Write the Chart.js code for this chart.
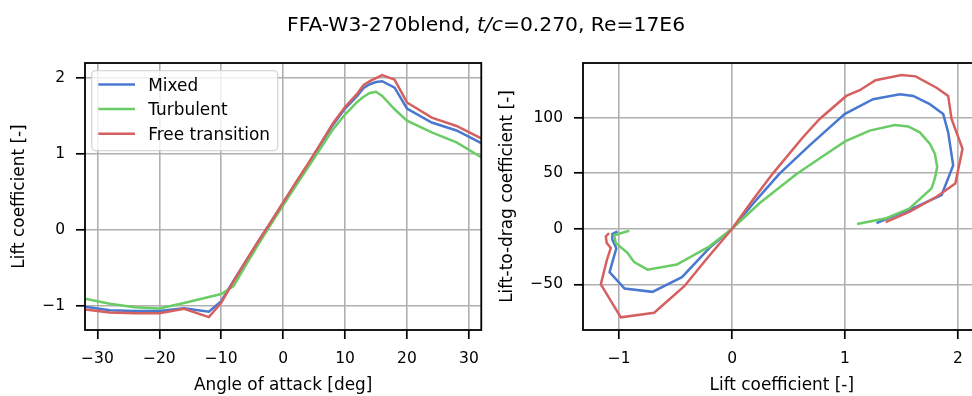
<!DOCTYPE html>
<html><head><meta charset="utf-8">
<script src="https://cdn.jsdelivr.net/npm/chart.js@4.4.1/dist/chart.umd.min.js"></script>
<style>
html,body{margin:0;padding:0;background:#fff;overflow:hidden;width:972px;height:396px;}
#title{position:absolute;left:0;width:972px;top:14px;text-align:center;font-family:"DejaVu Sans";font-size:20.3px;line-height:20px;color:#000;white-space:nowrap;}
#w1{position:absolute;left:0;top:0;width:490px;height:396px;overflow:hidden;}
#w2{position:absolute;left:490px;top:0;width:482px;height:396px;overflow:hidden;}
canvas{position:absolute;left:0;top:0;}
</style></head><body>
<div id="w1"><canvas id="c1" width="490" height="396"></canvas></div>
<div id="w2"><canvas id="c2" width="500" height="396"></canvas></div>
<div id="title">FFA-W3-270blend, <i>t/c</i>=0.270, Re=17E6</div>
<script>
// ---- data ----
const seriesNames = ['Mixed', 'Turbulent', 'Free transition'];
const alpha = [-32,-28,-24,-20,-16,-12,-10,-8,-6,-4,-2,0,2,4,6,8,10,12,13,14,15,16,18,20,24,28,32];
const clMixed = [-1.013,-1.06,-1.07,-1.07,-1.035,-1.08,-0.94,-0.67,-0.41,-0.15,0.10,0.36,0.61,0.86,1.12,1.38,1.60,1.77,1.87,1.92,1.95,1.96,1.875,1.60,1.415,1.31,1.145];
const clTurb  = [-0.908,-0.975,-1.02,-1.035,-0.965,-0.885,-0.845,-0.74,-0.46,-0.19,0.07,0.325,0.575,0.82,1.07,1.32,1.52,1.69,1.755,1.805,1.82,1.765,1.59,1.44,1.285,1.153,0.957];
const clFree  = [-1.05,-1.09,-1.10,-1.10,-1.04,-1.15,-0.96,-0.68,-0.41,-0.15,0.10,0.36,0.62,0.87,1.13,1.40,1.62,1.80,1.91,1.96,2.00,2.04,1.98,1.68,1.48,1.37,1.205];

const ldClMixed = [-1.015,-1.06,-1.06,-1.025,-1.085,-0.952,-0.705,-0.444,-0.2,0,0.213,0.42,0.686,0.996,1.248,1.485,1.603,1.75,1.869,1.913,1.957,1.855,1.633,1.455,1.278];
const ldMixed   = [-2.4,-4.8,-9.8,-17.5,-39,-53.8,-56.7,-43.5,-17.2,0,25.8,49.6,75,103.1,116.5,120.9,119.4,112,103.1,86.7,57,30.3,19.9,12.5,5.1];
const ldClTurb  = [-0.91,-1.045,-1.03,-0.926,-0.867,-0.749,-0.49,-0.2,0,0.242,0.568,0.80,1.0,1.218,1.44,1.559,1.662,1.75,1.795,1.816,1.795,1.766,1.573,1.366,1.106];
const ldTurb    = [-1.8,-5.8,-12.8,-21.7,-30,-36.8,-32.1,-15.8,0,22.9,49,65,78.5,88.2,93.3,92,86.7,76.4,67.5,55.5,45.2,36.3,18.4,9.5,4.2];
const ldClFree  = [-1.089,-1.118,-1.11,-1.074,-1.11,-1.162,-0.985,-0.69,-0.423,-0.23,0,0.183,0.36,0.627,0.775,1.011,1.13,1.27,1.50,1.625,1.81,1.913,1.943,2.04,1.976,1.81,1.573,1.36];
const ldFree    = [-3.9,-6.8,-12.8,-17.2,-28.5,-49.9,-79.6,-75.5,-51.6,-27.6,0,25.8,49.6,82.3,98.7,119.4,124.5,133.5,138.1,137,126.8,119.4,98.7,71.9,40.7,28.8,15.4,6];

const xTicksL = [-30,-20,-10,0,10,20,30];
const yTicksL = [-1,0,1,2];
const xTicksR = [-1,0,1,2];
const yTicksR = [-50,0,50,100];

// ---- style ----
const colors = ['#4878d0', '#6acc64', '#d65f5f'];
const FONT = 'DejaVu Sans';
const TXT = '#000';

function pts(xs, ys){ return xs.map((x,i)=>({x:x, y:ys[i]})); }
function fmt(v){ return v < 0 ? '\u2212' + Math.abs(v) : String(v); }

function axis(pos, min, max, ticksArr, title, size, titlePad){
  return {
    type:'linear', position:pos, min:min, max:max,
    afterBuildTicks: s => { s.ticks = ticksArr.map(v => ({value:v})); },
    afterFit: s => { if (pos === 'bottom') s.height = size; else s.width = size; },
    grid: {color:'#b0b0b0', lineWidth:1.6, tickColor:TXT, tickLength:9, tickWidth:1.7, drawTicks:true},
    border: {display:false},
    ticks: {font:{family:FONT, size:15.5}, color:TXT, padding: pos === 'bottom' ? 11 : 11,
            maxRotation:0, autoSkip:false, callback: v => fmt(v)},
    title: {display:true, text:title, font:{family:FONT, size:16.9}, color:TXT, padding:titlePad}
  };
}

const framePlugin = {
  id:'frame',
  afterDatasetsDraw(chart){
    const c = chart.ctx, a = chart.chartArea;
    c.save();
    c.strokeStyle = '#000'; c.lineWidth = 1.8;
    c.strokeRect(a.left, a.top, a.right - a.left, a.bottom - a.top);
    c.restore();
  }
};

const legendPlugin = {
  id:'mplLegend',
  afterDraw(chart, args, opts){
    if (!opts || !opts.show) return;
    const c = chart.ctx, a = chart.chartArea;
    const x0 = a.left + 6.7, y0 = a.top + 7.6, w = 186, h = 80, r = 4;
    c.save();
    c.beginPath();
    c.moveTo(x0 + r, y0); c.lineTo(x0 + w - r, y0); c.arcTo(x0 + w, y0, x0 + w, y0 + r, r);
    c.lineTo(x0 + w, y0 + h - r); c.arcTo(x0 + w, y0 + h, x0 + w - r, y0 + h, r);
    c.lineTo(x0 + r, y0 + h); c.arcTo(x0, y0 + h, x0, y0 + h - r, r);
    c.lineTo(x0, y0 + r); c.arcTo(x0, y0, x0 + r, y0, r); c.closePath();
    c.globalAlpha = 0.8; c.fillStyle = '#fff'; c.fill();
    c.strokeStyle = '#cccccc'; c.lineWidth = 1.3; c.stroke();
    c.globalAlpha = 1;
    const rows = [14, 38.4, 63.2];
    c.font = '16.9px "' + FONT + '"';
    c.textBaseline = 'alphabetic'; c.textAlign = 'left'; c.fillStyle = TXT;
    seriesNames.forEach((n, i) => {
      const y = y0 + rows[i];
      c.strokeStyle = colors[i]; c.lineWidth = 2.5;
      c.beginPath(); c.moveTo(x0 + 6.6, y); c.lineTo(x0 + 43.3, y); c.stroke();
      c.fillText(n, x0 + 56.6, y + 6.2);
    });
    c.restore();
  }
};

function ds(label, data, i){
  return {label:label, data:data, borderColor:colors[i], backgroundColor:colors[i],
          borderWidth:2.5, pointRadius:0, tension:0, fill:false, order:2 - i};
}

const common = (padRight, showLegend) => ({
  responsive:false, maintainAspectRatio:false, animation:false, devicePixelRatio:1,
  layout:{padding:{top:63, right:padRight, left:0, bottom:0}},
  plugins:{legend:{display:false}, tooltip:{enabled:false}, title:{display:false},
           mplLegend:{show:showLegend}},
  events:[]
});

const opt1 = common(8, true);
opt1.scales = {
  x: axis('bottom', -32, 32, xTicksL, 'Angle of attack [deg]', 66, {top:0, bottom:0}),
  y: axis('left', -1.32, 2.2, yTicksL, 'Lift coefficient [-]', 85, {top:9.6, bottom:0})
};
new Chart(document.getElementById('c1'), {
  type:'line',
  data:{datasets:[
    ds(seriesNames[0], pts(alpha, clMixed), 0),
    ds(seriesNames[1], pts(alpha, clTurb), 1),
    ds(seriesNames[2], pts(alpha, clFree), 2)
  ]},
  options:opt1,
  plugins:[framePlugin, legendPlugin]
});

const opt2 = common(9.4, false);
opt2.scales = {
  x: axis('bottom', -1.32, 2.2, xTicksR, 'Lift coefficient [-]', 66, {top:0, bottom:0}),
  y: axis('left', -91, 149, yTicksR, 'Lift-to-drag coefficient [-]', 93, {top:7.2, bottom:0})
};
new Chart(document.getElementById('c2'), {
  type:'line',
  data:{datasets:[
    ds(seriesNames[0], pts(ldClMixed, ldMixed), 0),
    ds(seriesNames[1], pts(ldClTurb, ldTurb), 1),
    ds(seriesNames[2], pts(ldClFree, ldFree), 2)
  ]},
  options:opt2,
  plugins:[framePlugin, legendPlugin]
});
</script>
</body></html>
